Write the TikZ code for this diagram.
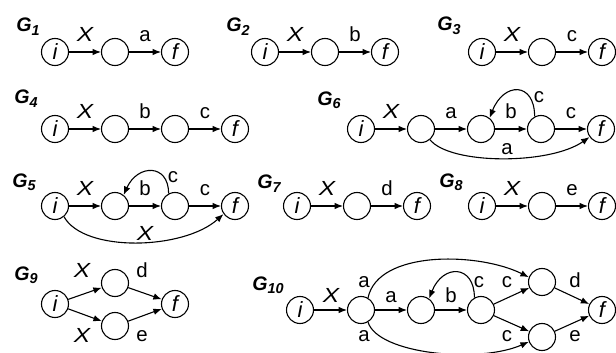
\documentclass[tikz,border=0pt]{standalone}
\usepackage{fontspec}
\setmainfont{Liberation Sans}
\usetikzlibrary{arrows.meta}
\newcommand\glab[1]{\textbf{\textit{G}}\raisebox{-0.35ex}{\fontsize{7.2}{7.2}\selectfont\textbf{\textit{#1}}}}
\newcommand\vX{\textit{\scalebox{1.2}[1]{X}}}
\begin{document}
\begin{tikzpicture}[x=0.5pt,y=-0.5pt,
  st/.style={circle,draw,line width=0.55pt,minimum size=13.5pt,inner sep=0pt,font=\fontsize{11}{11}\selectfont\itshape},
  arr/.style={line width=0.55pt,-{Latex[length=4.2pt,width=3.3pt]}},
  lab/.style={inner sep=0pt,text depth=0pt,font=\fontsize{10.2}{11}\selectfont},
  el/.style={lab,above=5pt},
  bl/.style={lab,anchor=base},
  gl/.style={anchor=base west,inner sep=0pt,font=\fontsize{9.8}{11}\selectfont}]
\useasboundingbox (0,0) rectangle (616,353);

% ---------- G1
\node[gl] (G1) at (16,32) {\glab{1}};
\node[st] (g1i) at (55,52) {i};
\node[st] (g1a) at (115,52) {};
\node[st] (g1f) at (175,52) {f};
\draw[arr] (g1i) -- node[el] {\vX} (g1a);
\draw[arr] (g1a) -- node[el] {a} (g1f);

% ---------- G2
\node[gl] (G2) at (226,32) {\glab{2}};
\node[st] (g2i) at (265,52) {i};
\node[st] (g2a) at (325,52) {};
\node[st] (g2f) at (385,52) {f};
\draw[arr] (g2i) -- node[el] {\vX} (g2a);
\draw[arr] (g2a) -- node[el] {b} (g2f);

% ---------- G3
\node[gl] (G3) at (437,31) {\glab{3}};
\node[st] (g3i) at (482,52) {i};
\node[st] (g3a) at (542,52) {};
\node[st] (g3f) at (602,52) {f};
\draw[arr] (g3i) -- node[el] {\vX} (g3a);
\draw[arr] (g3a) -- node[el] {c} (g3f);

% ---------- G4
\node[gl] (G4) at (14,104) {\glab{4}};
\node[st] (g4i) at (55,129) {i};
\node[st] (g4a) at (115,129) {};
\node[st] (g4b) at (175,129) {};
\node[st] (g4f) at (235,129) {f};
\draw[arr] (g4i) -- node[el] {\vX} (g4a);
\draw[arr] (g4a) -- node[el] {b} (g4b);
\draw[arr] (g4b) -- node[el] {c} (g4f);

% ---------- G6
\node[gl] (G6) at (317,105) {\glab{6}};
\node[st] (g6i) at (361,129) {i};
\node[st] (g6p) at (421,129) {};
\node[st] (g6q) at (481,129) {};
\node[st] (g6r) at (541,129) {};
\node[st] (g6f) at (601,129) {f};
\draw[arr] (g6i) -- node[el] {\vX} (g6p);
\draw[arr] (g6p) -- node[el] {a} (g6q);
\draw[arr] (g6q) -- node[el] {b} (g6r);
\draw[arr] (g6r) -- node[el] {c} (g6f);
\draw[arr] (g6r.117) .. controls +(0,-35) and +(14,-36) .. (g6q.52);
\node[bl] (g6lc) at (539,103) {c};
\draw[arr] (g6p.-50) .. controls +(20,25) and +(-40,28) .. (g6f.215);
\node[bl] (g6la) at (507,155) {a};

% ---------- G5
\node[gl] (G5) at (12,187) {\glab{5}};
\node[st] (g5i) at (55,206) {i};
\node[st] (g5p) at (115,206) {};
\node[st] (g5q) at (175,206) {};
\node[st] (g5f) at (235,206) {f};
\draw[arr] (g5i) -- node[el] {\vX} (g5p);
\draw[arr] (g5p) -- node[el] {b} (g5q);
\draw[arr] (g5q) -- node[el] {c} (g5f);
\draw[arr] (g5q.117) .. controls +(0,-30) and +(14,-31) .. (g5p.52);
\node[bl] (g5lc) at (173,183) {c};
\draw[arr] (g5i.-50) .. controls +(20,36) and +(-40,36) .. (g5f.215);
\node[bl] (g5lx) at (145,241) {\vX};

% ---------- G7
\node[gl] (G7) at (257,189) {\glab{7}};
\node[st] (g7i) at (297,206) {i};
\node[st] (g7a) at (357,206) {};
\node[st] (g7f) at (417,206) {f};
\draw[arr] (g7i) -- node[el] {\vX} (g7a);
\draw[arr] (g7a) -- node[el] {d} (g7f);

% ---------- G8
\node[gl] (G8) at (439,187) {\glab{8}};
\node[st] (g8i) at (482,206) {i};
\node[st] (g8a) at (542,206) {};
\node[st] (g8f) at (602,206) {f};
\draw[arr] (g8i) -- node[el] {\vX} (g8a);
\draw[arr] (g8a) -- node[el] {e} (g8f);

% ---------- G9
\node[gl] (G9) at (14,280) {\glab{9}};
\node[st] (g9i) at (55,304) {i};
\node[st] (g9t) at (115,283) {};
\node[st] (g9b) at (115,326) {};
\node[st] (g9f) at (175,304) {f};
\draw[arr] (g9i) -- (g9t);
\draw[arr] (g9i) -- (g9b);
\draw[arr] (g9t) -- (g9f);
\draw[arr] (g9b) -- (g9f);
\node[bl] (g9lx1) at (82,277) {\vX};
\node[bl] (g9lx2) at (82,342) {\vX};
\node[bl] (g9ld) at (142,277) {d};
\node[bl] (g9le) at (142,341) {e};

% ---------- G10
\node[gl] (G10) at (252,290) {\glab{10}};
\node[st] (g10i) at (300,310) {i};
\node[st] (g10p) at (361,310) {};
\node[st] (g10q) at (421,310) {};
\node[st] (g10r) at (481,310) {};
\node[st] (g10t) at (542,282) {};
\node[st] (g10b) at (542,337) {};
\node[st] (g10f) at (602,310) {f};
\draw[arr] (g10i) -- (g10p);
\draw[arr] (g10p) -- (g10q);
\draw[arr] (g10q) -- (g10r);
\draw[arr] (g10r) -- (g10t);
\draw[arr] (g10r) -- (g10b);
\draw[arr] (g10t) -- (g10f);
\draw[arr] (g10b) -- (g10f);
\draw[arr] (g10r.118) .. controls +(0,-33) and +(14,-35) .. (g10q.55);
\draw[arr] (g10p.60) .. controls +(10,-48) and +(-50,-25) .. (g10t.160);
\draw[arr] (g10p.-60) .. controls +(10,32) and +(-50,22) .. (g10b.200);
\node[bl] (g10lx) at (331,302) {\vX};
\node[bl] (g10la) at (391,302) {a};
\node[bl] (g10lb) at (451,302) {b};
\node[bl] (g10lau) at (364,287) {a};
\node[bl] (g10lcl) at (479,287) {c};
\node[bl] (g10lct) at (507,287) {c};
\node[bl] (g10ld) at (575,287) {d};
\node[bl] (g10lal) at (364,341) {a};
\node[bl] (g10lcb) at (507,341) {c};
\node[bl] (g10le) at (575,341) {e};
\end{tikzpicture}
\end{document}
